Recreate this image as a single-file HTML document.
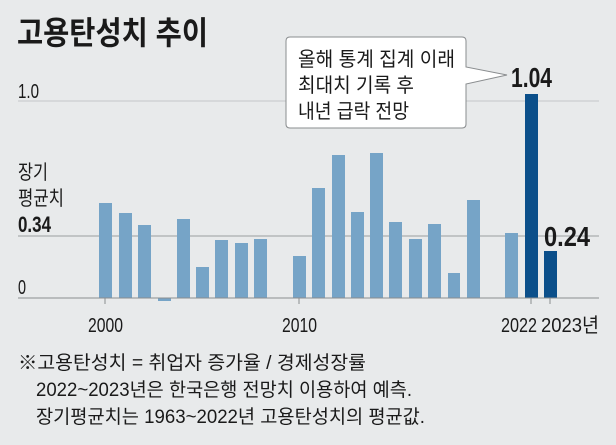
<!DOCTYPE html>
<html><head><meta charset="utf-8"><style>
html,body{margin:0;padding:0;background:#e8eaeb;}
svg{display:block}
text{font-family:"Liberation Sans","Noto Sans CJK KR",sans-serif;fill:#1a1a1a}
</style></head><body>
<svg width="616" height="445" viewBox="0 0 616 445" xmlns="http://www.w3.org/2000/svg">
<rect width="616" height="445" fill="#e8eaeb"/>
<text x="17" y="44" font-size="32" font-weight="bold" textLength="191" lengthAdjust="spacingAndGlyphs">고용탄성치 추이</text>
<line x1="18" y1="101" x2="599" y2="101" stroke="#c4c7c9" stroke-width="1"/>
<line x1="18" y1="236" x2="599" y2="236" stroke="#9a9d9f" stroke-width="1"/>
<text x="18" y="98" font-size="20" textLength="21" lengthAdjust="spacingAndGlyphs">1.0</text>
<text x="18" y="179" font-size="20" textLength="30" lengthAdjust="spacingAndGlyphs">장기</text>
<text x="18" y="205" font-size="20" textLength="46" lengthAdjust="spacingAndGlyphs">평균치</text>
<text x="18" y="232" font-size="22" font-weight="bold" textLength="33" lengthAdjust="spacingAndGlyphs">0.34</text>
<text x="18" y="294" font-size="20" textLength="8" lengthAdjust="spacingAndGlyphs">0</text>
<g fill="#76a4c7">
<rect x="99" y="203" width="13" height="95"/>
<rect x="119" y="213" width="13" height="85"/>
<rect x="138" y="225" width="13" height="73"/>
<rect x="158" y="298" width="13" height="3"/>
<rect x="177" y="219" width="13" height="79"/>
<rect x="196" y="267" width="13" height="31"/>
<rect x="215" y="240" width="13" height="58"/>
<rect x="235" y="243" width="13" height="55"/>
<rect x="254" y="239" width="13" height="59"/>
<rect x="293" y="256" width="13" height="42"/>
<rect x="312" y="188" width="13" height="110"/>
<rect x="332" y="155" width="13" height="143"/>
<rect x="351" y="212" width="13" height="86"/>
<rect x="370" y="153" width="13" height="145"/>
<rect x="389" y="222" width="13" height="76"/>
<rect x="409" y="239" width="13" height="59"/>
<rect x="428" y="224" width="13" height="74"/>
<rect x="448" y="273" width="12" height="25"/>
<rect x="467" y="200" width="13" height="98"/>
<rect x="505" y="233" width="13" height="65"/>
</g>
<rect x="525" y="94" width="13" height="204" fill="#0b4f8a"/>
<rect x="544" y="251" width="13" height="47" fill="#0b4f8a"/>
<line x1="18" y1="298" x2="599" y2="298" stroke="#8a8d8f" stroke-width="1"/>
<g stroke="#8a8d8f" stroke-width="1">
<line x1="105" y1="298" x2="105" y2="304"/>
<line x1="299" y1="298" x2="299" y2="304"/>
<line x1="531" y1="298" x2="531" y2="304"/>
<line x1="550" y1="298" x2="550" y2="304"/>
</g>
<text x="88" y="332" font-size="20" textLength="35" lengthAdjust="spacingAndGlyphs">2000</text>
<text x="282" y="332" font-size="20" textLength="35" lengthAdjust="spacingAndGlyphs">2010</text>
<text x="501" y="332" font-size="20" textLength="36" lengthAdjust="spacingAndGlyphs">2022</text>
<text x="541" y="332" font-size="20" textLength="58" lengthAdjust="spacingAndGlyphs">2023년</text>
<text x="511" y="87" font-size="28" font-weight="bold" textLength="41" lengthAdjust="spacingAndGlyphs">1.04</text>
<text x="544" y="246" font-size="28" font-weight="bold" textLength="46" lengthAdjust="spacingAndGlyphs">0.24</text>
<path d="M290,37 H462 Q466,37 466,41 V67 L507,75 L466,84 V124 Q466,128 462,128 H290 Q286,128 286,124 V41 Q286,37 290,37 Z" fill="#fff" stroke="#8a8d8f" stroke-width="1"/>
<text x="298" y="66" font-size="20" textLength="157" lengthAdjust="spacingAndGlyphs">올해 통계 집계 이래</text>
<text x="298" y="92" font-size="20" textLength="116" lengthAdjust="spacingAndGlyphs">최대치 기록 후</text>
<text x="298" y="118" font-size="20" textLength="111" lengthAdjust="spacingAndGlyphs">내년 급락 전망</text>
<text x="18" y="369" font-size="19" textLength="348" lengthAdjust="spacingAndGlyphs">※고용탄성치 = 취업자 증가율 / 경제성장률</text>
<text x="36" y="396" font-size="19" textLength="376" lengthAdjust="spacingAndGlyphs">2022~2023년은 한국은행 전망치 이용하여 예측.</text>
<text x="36" y="423" font-size="19" textLength="389" lengthAdjust="spacingAndGlyphs">장기평균치는 1963~2022년 고용탄성치의 평균값.</text>
</svg>
</body></html>
